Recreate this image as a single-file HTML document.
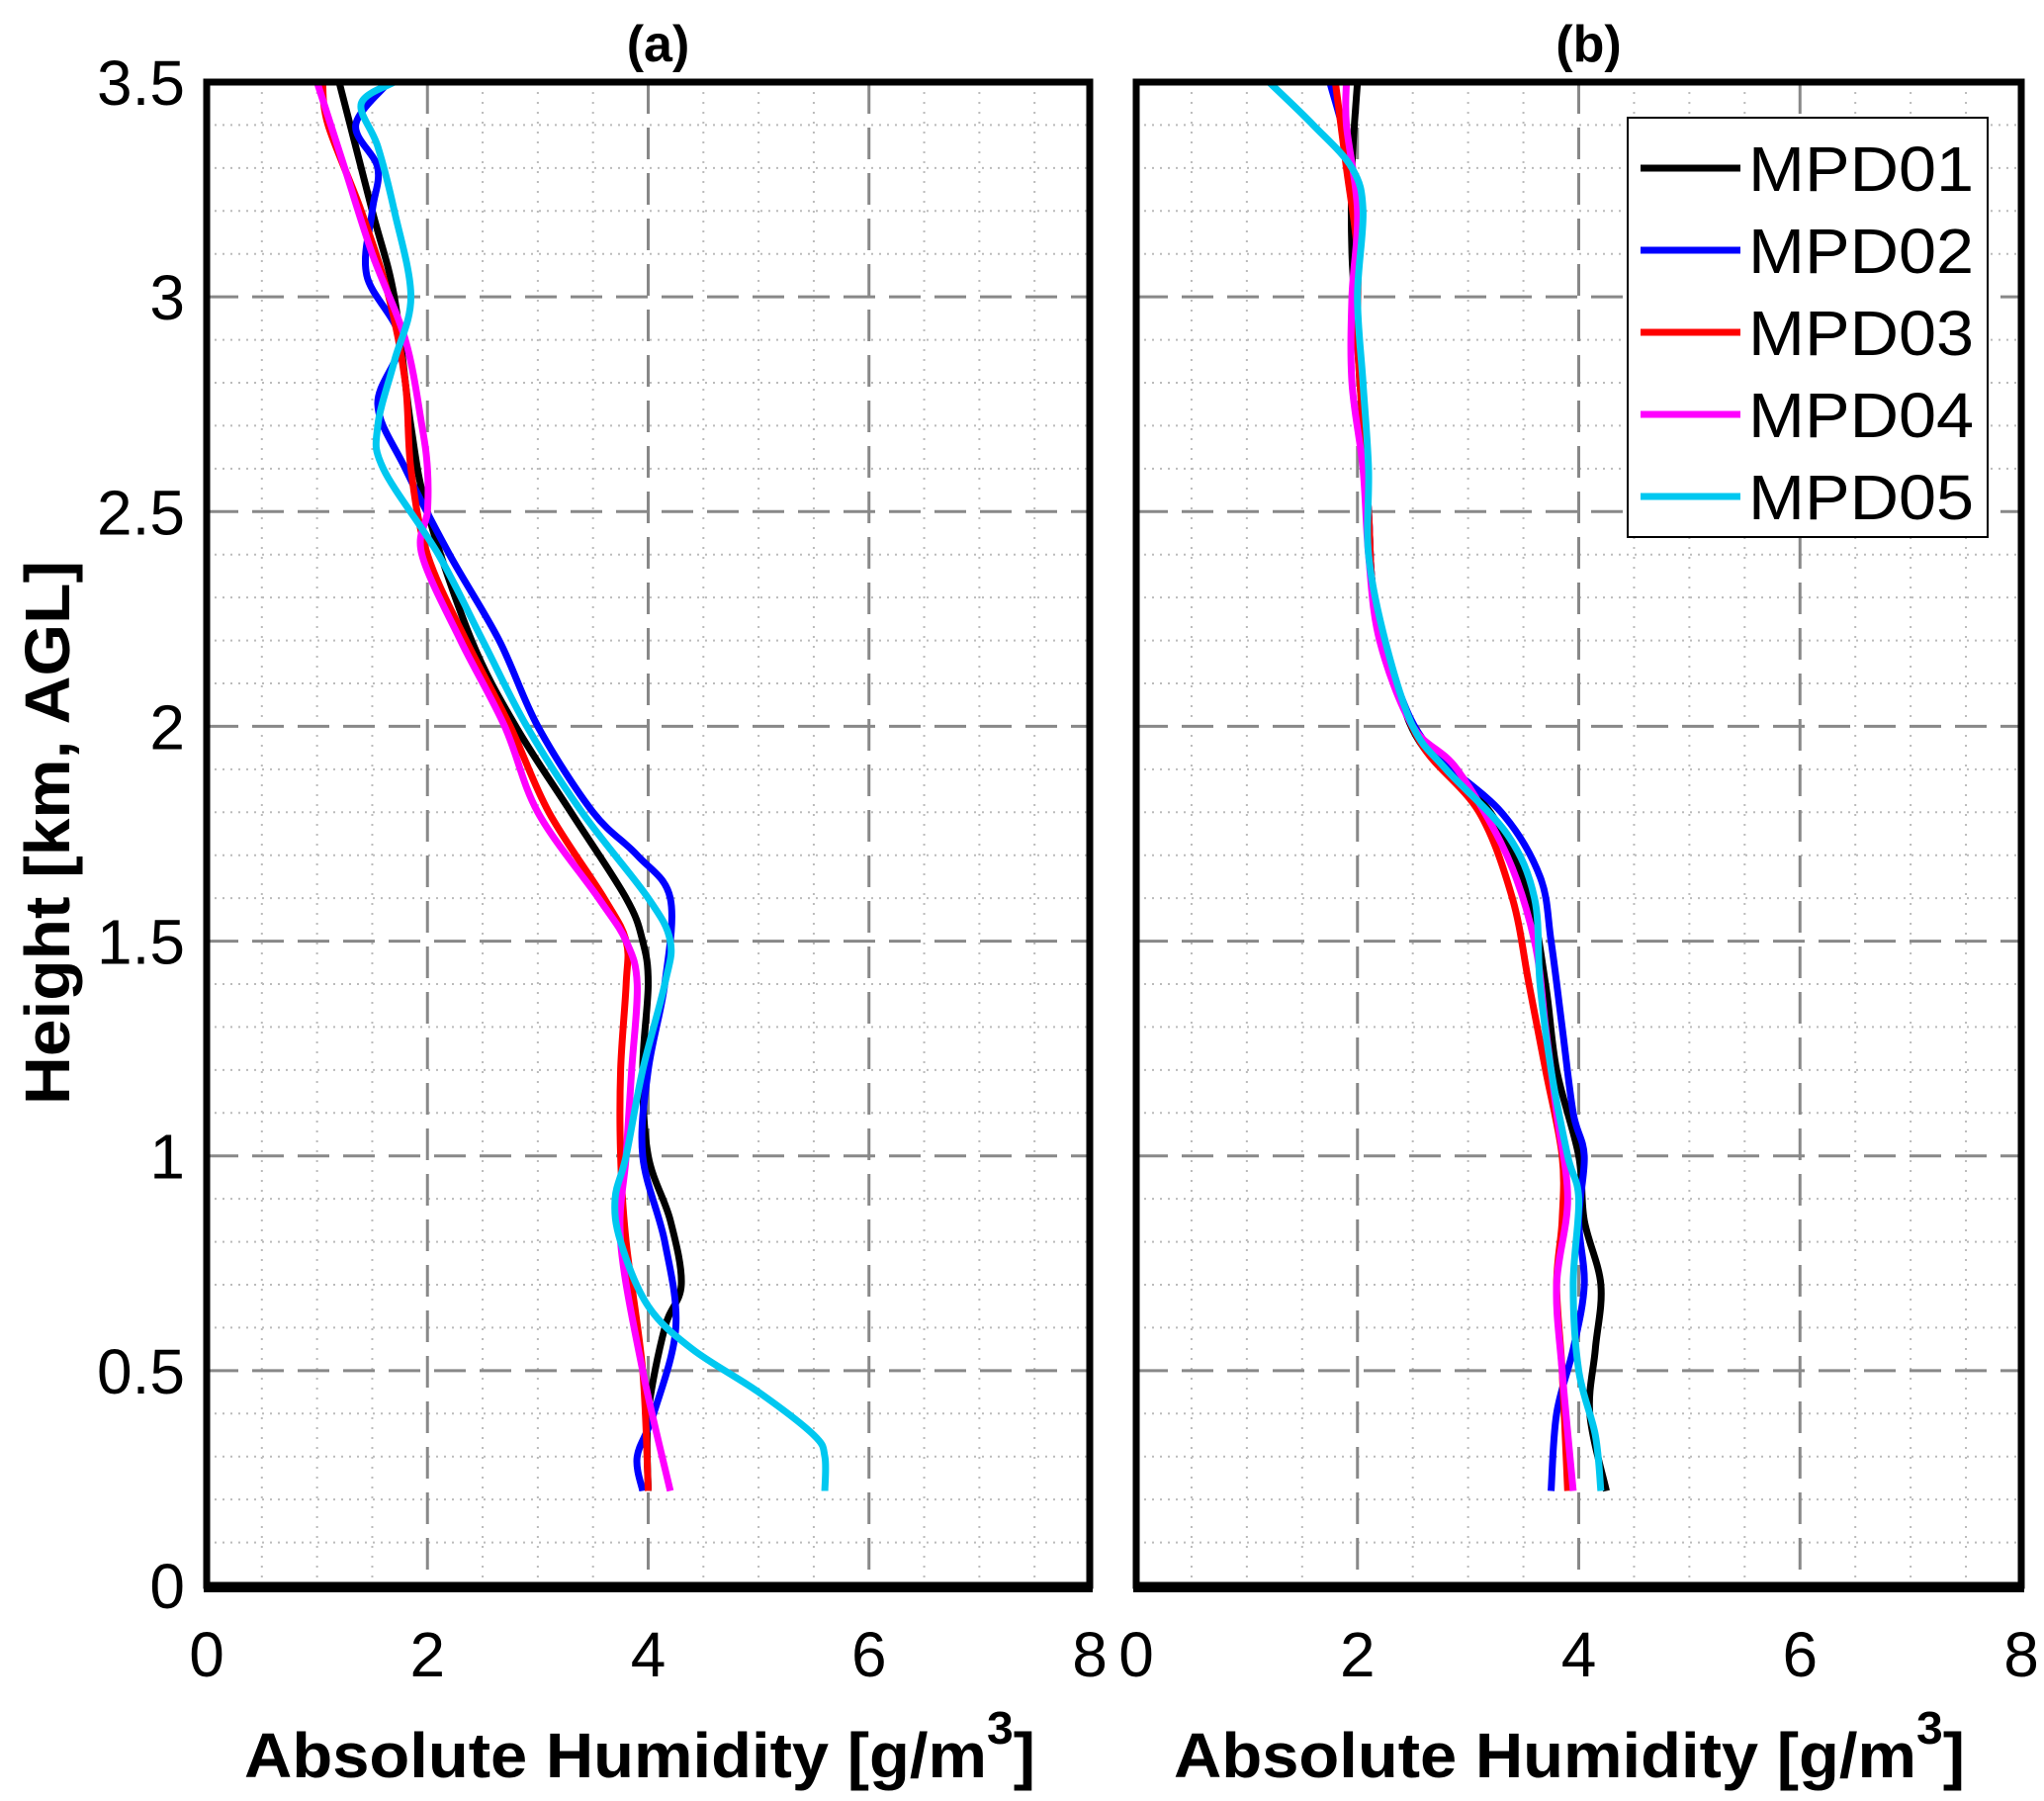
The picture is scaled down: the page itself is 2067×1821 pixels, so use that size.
<!DOCTYPE html>
<html><head><meta charset="utf-8"><style>
html,body{margin:0;padding:0;background:#fff}
svg{display:block;font-family:"Liberation Sans",sans-serif}
</style></head><body>
<svg id="chart" width="2067" height="1821" viewBox="0 0 2067 1821"></svg>
<script>
const heights = {
 a1:[0.22,0.4,0.6,0.7,0.85,1.0,1.2,1.4,1.5,1.6,1.8,2.0,2.2,2.5,2.7,3.0,3.2,3.5],
 a2:[0.22,0.3,0.4,0.6,0.8,1.0,1.2,1.4,1.6,1.7,1.8,2.0,2.2,2.4,2.6,2.75,2.9,3.05,3.2,3.3,3.4,3.5],
 a3:[0.22,0.5,0.8,1.0,1.2,1.4,1.5,1.6,1.8,2.0,2.2,2.4,2.6,2.8,3.0,3.2,3.4,3.5],
 a4:[0.22,0.5,0.8,1.0,1.2,1.4,1.5,1.6,1.8,2.0,2.2,2.4,2.5,2.6,2.7,2.9,3.1,3.3,3.5],
 a5:[0.22,0.3,0.35,0.45,0.55,0.65,0.8,0.9,1.0,1.2,1.4,1.5,1.6,1.8,2.0,2.2,2.4,2.6,2.7,2.85,3.0,3.2,3.35,3.45,3.5],
 b1:[0.22,0.4,0.55,0.7,0.85,1.0,1.2,1.4,1.6,1.8,1.95,2.1,2.3,2.5,2.7,2.9,3.1,3.3,3.5],
 b2:[0.22,0.4,0.55,0.7,0.85,1.0,1.1,1.3,1.5,1.65,1.8,1.95,2.1,2.3,2.5,2.7,2.9,3.1,3.3,3.5],
 b3:[0.22,0.5,0.7,0.85,1.0,1.2,1.4,1.6,1.8,1.95,2.1,2.3,2.5,2.7,2.9,3.1,3.3,3.5],
 b4:[0.22,0.5,0.7,0.9,1.1,1.3,1.5,1.7,1.9,2.0,2.2,2.4,2.6,2.8,3.0,3.2,3.4,3.5],
 b5:[0.22,0.35,0.5,0.7,0.9,1.0,1.2,1.4,1.6,1.75,1.9,2.0,2.2,2.4,2.6,2.8,3.0,3.2,3.3,3.4,3.5]
};
const humidity = {
 a1:[4.0,4.0,4.15,4.3,4.2,4.0,3.95,4.0,3.95,3.8,3.3,2.8,2.4,2.0,1.85,1.7,1.5,1.2],
 a2:[3.95,3.9,4.05,4.25,4.15,3.95,4.0,4.15,4.2,3.9,3.5,3.0,2.65,2.2,1.8,1.55,1.75,1.45,1.5,1.55,1.35,1.65],
 a3:[4.0,3.95,3.8,3.75,3.75,3.8,3.8,3.6,3.1,2.75,2.35,2.0,1.85,1.8,1.65,1.4,1.1,1.05],
 a4:[4.2,3.95,3.75,3.8,3.85,3.9,3.8,3.55,3.0,2.7,2.3,1.95,2.0,2.0,1.95,1.8,1.5,1.25,1.0],
 a5:[5.6,5.6,5.5,5.0,4.4,4.0,3.75,3.7,3.8,3.95,4.15,4.2,4.0,3.4,2.9,2.5,2.1,1.6,1.55,1.7,1.85,1.7,1.55,1.4,1.7],
 b1:[4.25,4.1,4.15,4.2,4.05,4.0,3.8,3.7,3.55,3.2,2.6,2.35,2.15,2.1,2.05,2.0,1.95,1.95,2.0],
 b2:[3.75,3.8,3.95,4.05,4.0,4.05,3.95,3.85,3.75,3.65,3.3,2.65,2.35,2.15,2.1,2.05,2.0,2.0,1.95,1.75],
 b3:[3.9,3.85,3.8,3.85,3.85,3.7,3.55,3.4,3.1,2.6,2.35,2.15,2.1,2.05,2.0,2.0,1.9,1.8],
 b4:[3.95,3.85,3.8,3.9,3.8,3.7,3.6,3.35,2.9,2.5,2.2,2.1,2.05,1.95,1.95,2.0,1.9,1.9],
 b5:[4.2,4.15,4.0,3.95,4.0,3.9,3.75,3.65,3.6,3.35,2.8,2.5,2.25,2.1,2.1,2.05,2.0,2.05,1.95,1.6,1.2]
};
const seriesNames = ["MPD01","MPD02","MPD03","MPD04","MPD05"];
const seriesColors = ["#000000","#0000ff","#ff0000","#ff00ff","#00c8f0"];
const xTicks = [0,2,4,6,8];
const yTicks = [0,0.5,1,1.5,2,2.5,3,3.5];
const yTickLabels = ["0","0.5","1","1.5","2","2.5","3","3.5"];

const NS="http://www.w3.org/2000/svg";
const svg=document.getElementById('chart');
function mk(tag,attrs,parent){const e=document.createElementNS(NS,tag);for(const k in attrs)e.setAttribute(k,attrs[k]);(parent||svg).appendChild(e);return e;}
const top_=83,bot=1603;
const panels=[{key:'a',l:209,r:1102,title:'(a)'},{key:'b',l:1149,r:2044,title:'(b)'}];
const yS=h=>bot-(h/3.5)*(bot-top_);

panels.forEach((p,pi)=>{
  const xS=v=>p.l+(v/8)*(p.r-p.l);
  const g=mk('g',{});
  
  
  for(let v=0.5;v<8;v+=0.5){ if(v%2===0) continue;
    const ln=mk('line',{x1:xS(v),x2:xS(v),y1:top_,y2:bot,stroke:'#bbb','stroke-width':2,'stroke-dasharray':'2 8'},g);
    
    
  }
  for(let i=1;i<35;i++){ if(i%5===0) continue; const h=i/10;
    const ln=mk('line',{x1:p.l,x2:p.r,y1:yS(h),y2:yS(h),stroke:'#bbb','stroke-width':2,'stroke-dasharray':'2 6'},g);
    
    
  }
  [2,4,6].forEach(v=>{
    const ln=mk('line',{x1:xS(v),x2:xS(v),y1:top_,y2:bot,stroke:'#888','stroke-width':3,'stroke-dasharray':'32 14'},g);
    
    
  });
  [0.5,1,1.5,2,2.5,3].forEach(h=>{
    const ln=mk('line',{x1:p.l,x2:p.r,y1:yS(h),y2:yS(h),stroke:'#888','stroke-width':3,'stroke-dasharray':'32 14'},g);
    
    
  });
  seriesNames.forEach((n,si)=>{
    const k=p.key+(si+1);
    const pts=heights[k].map((h,i)=>[xS(humidity[k][i]),yS(h)]);
    let d='M'+pts[0][0]+','+pts[0][1];
    for(let i=0;i<pts.length-1;i++){
      const p0=pts[i-1]||pts[i],p1=pts[i],p2=pts[i+1],p3=pts[i+2]||p2;
      const c1=[p1[0]+(p2[0]-p0[0])/6,p1[1]+(p2[1]-p0[1])/6];
      const c2=[p2[0]-(p3[0]-p1[0])/6,p2[1]-(p3[1]-p1[1])/6];
      d+=` C${c1[0]},${c1[1]} ${c2[0]},${c2[1]} ${p2[0]},${p2[1]}`;
    }
    const path=mk('path',{d:d,fill:'none',stroke:seriesColors[si],'stroke-width':7,'stroke-linejoin':'round'},g);
    
    
  });
  const fr=mk('rect',{x:p.l,y:top_,width:p.r-p.l,height:bot-top_,fill:'none',stroke:'#000','stroke-width':7},g);
  
  
  const bl=mk('line',{x1:p.l-3,x2:p.r+3,y1:bot+2,y2:bot+2,stroke:'#000','stroke-width':10},g);
  
  
  xTicks.forEach(v=>{
    const t=mk('text',{x:xS(v),y:1695,'font-size':64,'text-anchor':'middle'},g);
    t.textContent=String(v);
    
    
  });
  const xt=mk('text',{x:p.l+38,y:1797,'font-size':64,'font-weight':'bold',textLength:800,lengthAdjust:'spacingAndGlyphs'},g);
  xt.innerHTML='Absolute Humidity [g/m<tspan dy="-34" font-size="46">3</tspan><tspan dy="34">]</tspan>';
  
  
  const tt=mk('text',{x:(p.l+p.r)/2+10,y:62,'font-size':52,'font-weight':'bold','text-anchor':'middle'},g);
  tt.textContent=p.title;
  
  
});
yTicks.forEach((h,i)=>{
  const t=mk('text',{x:187,y:yS(h)+23,'font-size':64,'text-anchor':'end'});
  t.textContent=yTickLabels[i];
  
  
});
const yt=mk('text',{x:0,y:0,'font-size':64,'font-weight':'bold','text-anchor':'middle',textLength:550,lengthAdjust:'spacingAndGlyphs',transform:'translate(70,842) rotate(-90)'});
yt.textContent='Height [km, AGL]';


const lg=mk('g',{});


const lr=mk('rect',{x:1646,y:119,width:364,height:424,fill:'#fff',stroke:'#000','stroke-width':2},lg);


seriesNames.forEach((n,i)=>{
  const y=170+i*83;
  const l=mk('line',{x1:1659,x2:1760,y1:y,y2:y,stroke:seriesColors[i],'stroke-width':7},lg);
  
  
  const t=mk('text',{x:1768,y:y+23,'font-size':64,textLength:228,lengthAdjust:'spacingAndGlyphs'},lg);
  t.textContent=n;
  
  
});
</script>
</body></html>
